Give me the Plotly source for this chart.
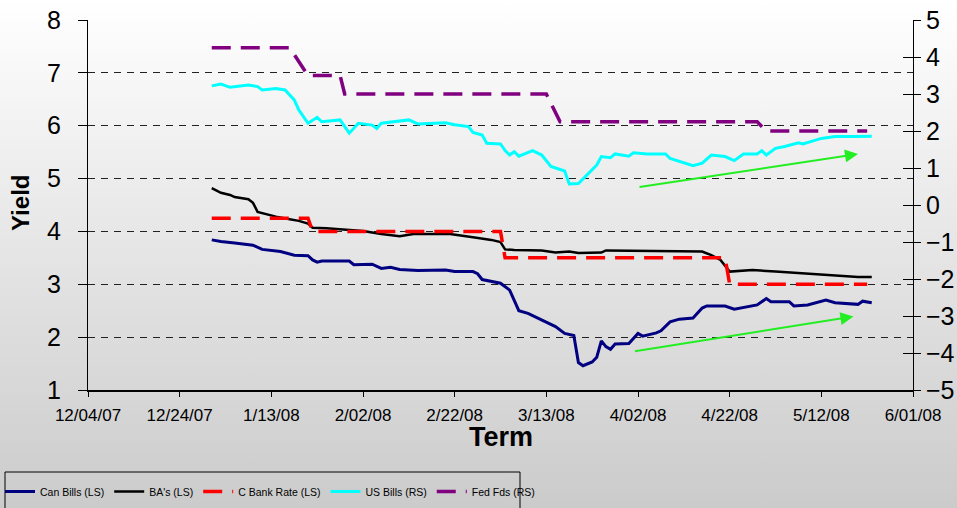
import base64
import plotly.graph_objects as go

# ---------------- data ----------------
can_dates = ["2007-12-31","2008-01-02","2008-01-05","2008-01-09","2008-01-11","2008-01-13","2008-01-15",
             "2008-01-18","2008-01-21","2008-01-22","2008-01-23","2008-01-24","2008-01-30","2008-01-31",
             "2008-02-04","2008-02-06","2008-02-08","2008-02-10","2008-02-14","2008-02-20","2008-02-22",
             "2008-02-26","2008-02-27","2008-02-28","2008-03-03","2008-03-05","2008-03-06","2008-03-07",
             "2008-03-09","2008-03-13","2008-03-15","2008-03-17","2008-03-19","2008-03-20","2008-03-21",
             "2008-03-23","2008-03-24","2008-03-25","2008-03-26","2008-03-27","2008-03-28","2008-03-31",
             "2008-04-02","2008-04-03","2008-04-06","2008-04-07","2008-04-09","2008-04-11","2008-04-14",
             "2008-04-16","2008-04-17","2008-04-21","2008-04-23","2008-04-28","2008-04-30","2008-05-01",
             "2008-05-05","2008-05-06","2008-05-09","2008-05-13","2008-05-15","2008-05-20","2008-05-21",
             "2008-05-23"]
can_bills = [3.84,3.81,3.78,3.74,3.66,3.64,3.62,
             3.55,3.54,3.46,3.42,3.44,3.44,3.37,
             3.38,3.30,3.32,3.28,3.26,3.27,3.24,
             3.24,3.20,3.09,3.02,2.89,2.70,2.50,
             2.45,2.29,2.20,2.07,2.03,1.52,1.46,
             1.53,1.62,1.93,1.82,1.77,1.87,1.88,
             2.07,2.02,2.08,2.12,2.29,2.34,2.36,
             2.55,2.59,2.59,2.53,2.61,2.73,2.67,
             2.67,2.59,2.61,2.70,2.65,2.62,2.68,
             2.65]

ba_dates = ["2007-12-31","2008-01-02","2008-01-04","2008-01-05","2008-01-08","2008-01-09","2008-01-10",
            "2008-01-12","2008-01-14","2008-01-17","2008-01-19","2008-01-21","2008-01-22","2008-01-25",
            "2008-01-29","2008-02-02","2008-02-06","2008-02-10","2008-02-13","2008-02-21","2008-02-26",
            "2008-03-01","2008-03-03","2008-03-04","2008-03-06","2008-03-12","2008-03-15","2008-03-18",
            "2008-03-20","2008-03-25","2008-03-26","2008-04-08","2008-04-16","2008-04-18","2008-04-20",
            "2008-04-22","2008-04-27","2008-05-02","2008-05-09","2008-05-15","2008-05-20","2008-05-23"]
bas = [4.82,4.73,4.69,4.65,4.61,4.54,4.37,
       4.32,4.28,4.23,4.20,4.15,4.07,4.06,
       4.03,4.01,3.95,3.91,3.95,3.95,3.89,
       3.84,3.80,3.66,3.65,3.64,3.60,3.62,
       3.59,3.60,3.64,3.63,3.62,3.55,3.46,
       3.24,3.27,3.24,3.20,3.16,3.14,3.14]

cbank_dates = ["2007-12-31","2008-01-21","2008-01-22","2008-03-03","2008-03-04","2008-04-21","2008-04-22","2008-05-22"]
cbank_rate = [4.25,4.25,4.00,4.00,3.50,3.50,3.00,3.00]

us_dates = ["2007-12-31","2008-01-02","2008-01-04","2008-01-08","2008-01-10","2008-01-11","2008-01-14",
            "2008-01-16","2008-01-18","2008-01-19","2008-01-21","2008-01-23","2008-01-24","2008-01-28",
            "2008-01-30","2008-02-01","2008-02-04","2008-02-05","2008-02-06","2008-02-09","2008-02-12",
            "2008-02-14","2008-02-20","2008-02-22","2008-02-25","2008-02-26","2008-02-28","2008-02-29",
            "2008-03-03","2008-03-04","2008-03-05","2008-03-06","2008-03-07","2008-03-10","2008-03-12",
            "2008-03-14","2008-03-17","2008-03-18","2008-03-20","2008-03-24","2008-03-25","2008-03-27",
            "2008-03-28","2008-03-31","2008-04-01","2008-04-04","2008-04-08","2008-04-09","2008-04-14",
            "2008-04-16","2008-04-18","2008-04-21","2008-04-23","2008-04-25","2008-04-28","2008-04-29",
            "2008-04-30","2008-05-02","2008-05-04","2008-05-07","2008-05-08","2008-05-12","2008-05-15",
            "2008-05-19","2008-05-23"]
us_bills = [3.22,3.27,3.18,3.24,3.20,3.11,3.15,
            3.11,2.84,2.57,2.21,2.37,2.25,2.30,
            1.94,2.21,2.16,2.07,2.21,2.26,2.30,
            2.19,2.22,2.17,2.12,1.96,1.89,1.67,
            1.65,1.47,1.35,1.44,1.32,1.47,1.35,
            1.04,0.92,0.57,0.58,1.08,1.31,1.28,
            1.38,1.32,1.41,1.38,1.38,1.26,1.06,
            1.13,1.35,1.31,1.20,1.38,1.38,1.47,
            1.35,1.53,1.58,1.68,1.65,1.80,1.85,
            1.85,1.86]

fed_dates = ["2007-12-31","2008-01-17","2008-01-21","2008-01-28","2008-01-29","2008-03-13","2008-03-16",
             "2008-04-28","2008-04-30","2008-05-22"]
fed_fds = [4.25,4.25,3.50,3.50,3.00,3.00,2.25,2.25,2.00,2.00]

tick_dates = ["2007-12-04","2007-12-24","2008-01-13","2008-02-02","2008-02-22","2008-03-13",
              "2008-04-02","2008-04-22","2008-05-12","2008-06-01"]
tick_labels = ["12/04/07","12/24/07","1/13/08","2/02/08","2/22/08","3/13/08",
               "4/02/08","4/22/08","5/12/08","6/01/08"]

# trend arrows: (tail date, tail value, head date, head value)
arrow_ls = ("2008-04-01", 1.73, "2008-05-19", 2.39)
arrow_rs = ("2008-04-02", 0.48, "2008-05-20", 1.38)

# ---------------- figure ----------------
FONT = "Arial, Liberation Sans, sans-serif"
W, H = 957, 508
L, R, T, B = 88, 44, 20, 118
PW, PH = W - L - R, H - T - B

def px_x(p):
    return (p - L) / PW

def px_y(p):
    return (H - B - p) / PH

fig = go.Figure()
fig.add_trace(go.Scatter(x=can_dates, y=can_bills, name="Can Bills (LS)", mode="lines",
                         line=dict(color="#000080", width=3)))
fig.add_trace(go.Scatter(x=ba_dates, y=bas, name="BA's (LS)", mode="lines",
                         line=dict(color="#000000", width=2.5)))
fig.add_trace(go.Scatter(x=cbank_dates, y=cbank_rate, name="C Bank Rate (LS)", mode="lines",
                         line=dict(color="#ff0000", width=3.5, dash="19px,10px")))
fig.add_trace(go.Scatter(x=us_dates, y=us_bills, name="US Bills (RS)", mode="lines", yaxis="y2",
                         line=dict(color="#00ffff", width=3)))
fig.add_trace(go.Scatter(x=fed_dates, y=fed_fds, name="Fed Fds (RS)", mode="lines", yaxis="y2",
                         line=dict(color="#800080", width=3.5, dash="19px,10px")))
# empty helper trace so the inner half of the right-axis cross ticks is drawn
fig.add_trace(go.Scatter(x=[], y=[], yaxis="y3", showlegend=False, hoverinfo="skip"))

svg = ('<svg xmlns="http://www.w3.org/2000/svg" width="957" height="508" preserveAspectRatio="none">'
       '<defs><linearGradient id="g" x1="0" y1="0" x2="0" y2="1">'
       '<stop offset="0" stop-color="#ffffff"/><stop offset="1" stop-color="#cbcbcb"/>'
       '</linearGradient></defs><rect width="957" height="508" fill="url(#g)"/></svg>')
src = "data:image/svg+xml;base64," + base64.b64encode(svg.encode()).decode()

fig.update_layout(
    width=W, height=H,
    margin=dict(l=L, r=R, t=T, b=B, pad=0, autoexpand=False),
    template="none",
    paper_bgcolor="#ffffff",
    plot_bgcolor="rgba(0,0,0,0)",
    font=dict(family=FONT, color="#000000"),
    showlegend=True,
    images=[dict(source=src, xref="paper", yref="paper", x=px_x(0), y=px_y(0),
                 sizex=W / PW, sizey=H / PH, sizing="stretch", xanchor="left", yanchor="top",
                 layer="below")],
    xaxis=dict(type="date", range=["2007-12-04", "2008-06-01"], tickmode="array",
               tickvals=tick_dates, ticktext=tick_labels, showgrid=False, zeroline=False,
               showline=True, linecolor="#000000", linewidth=1.5, ticks="outside", ticklen=5,
               tickcolor="#000000", tickwidth=1, tickfont=dict(size=17, family=FONT),
               automargin=False, ticklabelstandoff=4),
    yaxis=dict(range=[1, 8], tickmode="linear", tick0=1, dtick=1, showgrid=True,
               gridcolor="#222222", gridwidth=1, griddash="7px,6px", zeroline=False,
               showline=True, linecolor="#000000", linewidth=1, ticks="outside", ticklen=9,
               tickcolor="#000000", tickwidth=1, tickfont=dict(size=25, family=FONT),
               automargin=False, ticklabelstandoff=12),
    yaxis2=dict(range=[-5, 5], tickmode="linear", tick0=-5, dtick=1, overlaying="y", side="right",
                showgrid=False, zeroline=False, showline=True, linecolor="#000000", linewidth=1,
                ticks="outside", ticklen=7, tickcolor="#000000", tickwidth=1,
                tickfont=dict(size=25, family=FONT), automargin=False, ticklabelstandoff=0),
    yaxis3=dict(range=[-5, 5], tickmode="linear", tick0=-5, dtick=1, overlaying="y", side="right",
                showgrid=False, zeroline=False, showline=False, ticks="inside", ticklen=10,
                tickcolor="#000000", tickwidth=1, showticklabels=False, automargin=False),
    legend=dict(orientation="h", x=px_x(0), y=px_y(477), xanchor="left", yanchor="top",
                bgcolor="rgba(0,0,0,0)", borderwidth=0, font=dict(size=10.5, family=FONT),
                itemwidth=30, traceorder="normal"),
    shapes=[dict(type="rect", xref="paper", yref="paper", x0=px_x(5), x1=px_x(520),
                 y0=px_y(472), y1=px_y(530), line=dict(color="#000000", width=1),
                 fillcolor="rgba(0,0,0,0)", layer="above")],
    annotations=[
        dict(text="<b>Term</b>", xref="paper", yref="paper", x=0.5, y=px_y(437),
             showarrow=False, font=dict(size=27, family=FONT), xanchor="center", yanchor="middle"),
        dict(text="<b>Yield</b>", xref="paper", yref="paper", x=px_x(20), y=px_y(203),
             showarrow=False, font=dict(size=24, family=FONT), textangle=-90,
             xanchor="center", yanchor="middle"),
        dict(x=arrow_ls[2], y=arrow_ls[3], ax=arrow_ls[0], ay=arrow_ls[1], xref="x", yref="y",
             axref="x", ayref="y", text="", showarrow=True, arrowhead=2, arrowsize=1.3,
             arrowwidth=2, arrowcolor="#22ee22", standoff=0, startstandoff=0),
        dict(x=arrow_rs[2], y=arrow_rs[3], ax=arrow_rs[0], ay=arrow_rs[1], xref="x", yref="y2",
             axref="x", ayref="y2", text="", showarrow=True, arrowhead=2, arrowsize=1.3,
             arrowwidth=2, arrowcolor="#22ee22", standoff=0, startstandoff=0),
    ],
)

fig.write_html("out.html", config={"displayModeBar": False},
               post_script="document.body.style.margin='0';")
